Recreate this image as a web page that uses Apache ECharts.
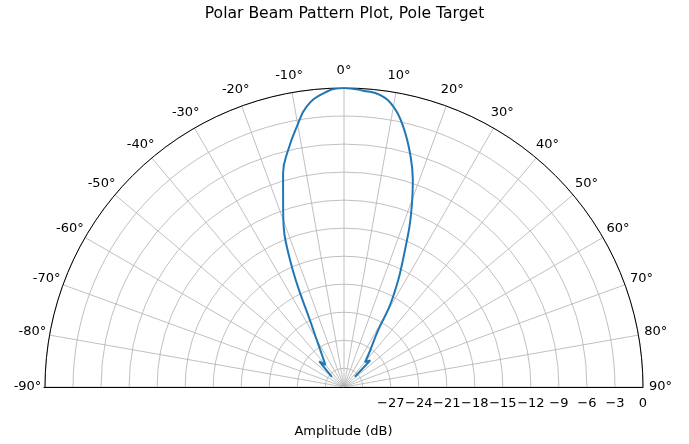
<!DOCTYPE html>
<html>
<head>
<meta charset="utf-8">
<script src="https://cdn.jsdelivr.net/npm/echarts@6/dist/echarts.min.js"></script>
<style>
html,body{margin:0;padding:0;background:#fff;}
#chart{width:689px;height:444px;}
</style>
</head>
<body>
<div id="chart"></div>
<script>
// Beam pattern data: angle (deg) and amplitude (dB)
var beamAngleDeg = [-50, -44, -40, -36, -28.3, -23, -19, -15.9, -13.2, -10.3, -7.6, -4, 0, 3.7, 7, 10, 12.8, 15.75, 18.4, 20.2, 24, 28.9, 31, 37.2, 40, 44.7, 46.9];
var beamAmplitudeDb = [-30.3, -28.2, -28.9, -28.2, -25.1, -17.2, -12, -8.2, -5.9, -3.7, -1.74, -0.49, 0, -0.22, -0.51, -1.54, -3.42, -5.98, -8.66, -10.9, -15.95, -21.4, -24.9, -27.7, -28.5, -28.0, -30.4];

var angleTicks = [-90, -80, -70, -60, -50, -40, -30, -20, -10, 0, 10, 20, 30, 40, 50, 60, 70, 80, 90];
var ampTickLabels = [-27, -24, -21, -18, -15, -12, -9, -6, -3, 0];
var ampMin = -32, ampMax = 0;

var FONT = 'DejaVu Sans';
var POLAR_R = 299;
var LABEL_GAP_PX = 17.5;
var labelRadius = ampMax + LABEL_GAP_PX * (ampMax - ampMin) / POLAR_R;

var seriesData = beamAngleDeg.map(function (a, i) { return [beamAmplitudeDb[i], a]; });
var angleLabelData = angleTicks.map(function (a) { return [labelRadius, a]; });

var chart = echarts.init(document.getElementById('chart'), null, {renderer: 'canvas'});
chart.setOption({
  animation: false,
  backgroundColor: '#ffffff',
  title: {
    text: 'Polar Beam Pattern Plot, Pole Target',
    left: 'center',
    top: 1,
    textStyle: {fontFamily: FONT, fontSize: 15.6, fontWeight: 'normal', color: '#000'}
  },
  polar: {center: [344, 387], radius: POLAR_R},
  angleAxis: {
    type: 'value',
    min: -90, max: 90, interval: 10,
    startAngle: 180, endAngle: 0, clockwise: true,
    axisLine: {show: true, lineStyle: {color: '#000', width: 1}},
    axisTick: {show: false},
    splitLine: {show: true, lineStyle: {color: '#b0b0b0', width: 0.8}},
    axisLabel: {show: false}
  },
  radiusAxis: {
    type: 'value',
    min: ampMin, max: ampMax, minInterval: 3, maxInterval: 3,
    axisLine: {show: false}, axisTick: {show: false}, axisLabel: {show: false},
    splitLine: {show: true, lineStyle: {color: '#b0b0b0', width: 0.8}}
  },
  grid: [
    {left: 344, right: 46, top: 300, bottom: 57},
    {left: 44, right: 46, top: 300, bottom: 57}
  ],
  xAxis: [
    {
      gridIndex: 0, type: 'value', min: ampMin, max: ampMax, minInterval: 3, maxInterval: 3,
      axisLine: {show: false}, axisTick: {show: false}, splitLine: {show: false},
      axisLabel: {
        margin: 10, fontFamily: FONT, fontSize: 13, color: '#000',
        formatter: function (v) {
          if (ampTickLabels.indexOf(v) < 0) return '';
          return v < 0 ? '\u2212' + Math.abs(v) : String(v);
        }
      }
    },
    {
      gridIndex: 1, type: 'value', min: 0, max: 1,
      axisLine: {show: true, lineStyle: {color: '#000', width: 1}},
      axisTick: {show: false}, splitLine: {show: false}, axisLabel: {show: false},
      name: 'Amplitude (dB)', nameLocation: 'middle', nameGap: 38,
      nameTextStyle: {fontFamily: FONT, fontSize: 13, color: '#000'}
    }
  ],
  yAxis: [
    {gridIndex: 0, type: 'value', show: false},
    {gridIndex: 1, type: 'value', show: false}
  ],
  series: [{
    type: 'line',
    coordinateSystem: 'polar',
    data: seriesData,
    showSymbol: false,
    smooth: 0.45,
    lineStyle: {color: '#1f77b4', width: 2},
    z: 5
  }, {
    type: 'scatter',
    coordinateSystem: 'polar',
    data: angleLabelData,
    symbolSize: 0,
    clip: false,
    silent: true,
    itemStyle: {color: '#000', opacity: 1},
    label: {
      show: true, position: 'inside',
      fontFamily: FONT, fontSize: 13, color: '#000', opacity: 1,
      textBorderWidth: 0, textBorderColor: 'transparent',
      formatter: function (p) { return p.value[1] + '°'; }
    }
  }]
});
</script>
</body>
</html>
